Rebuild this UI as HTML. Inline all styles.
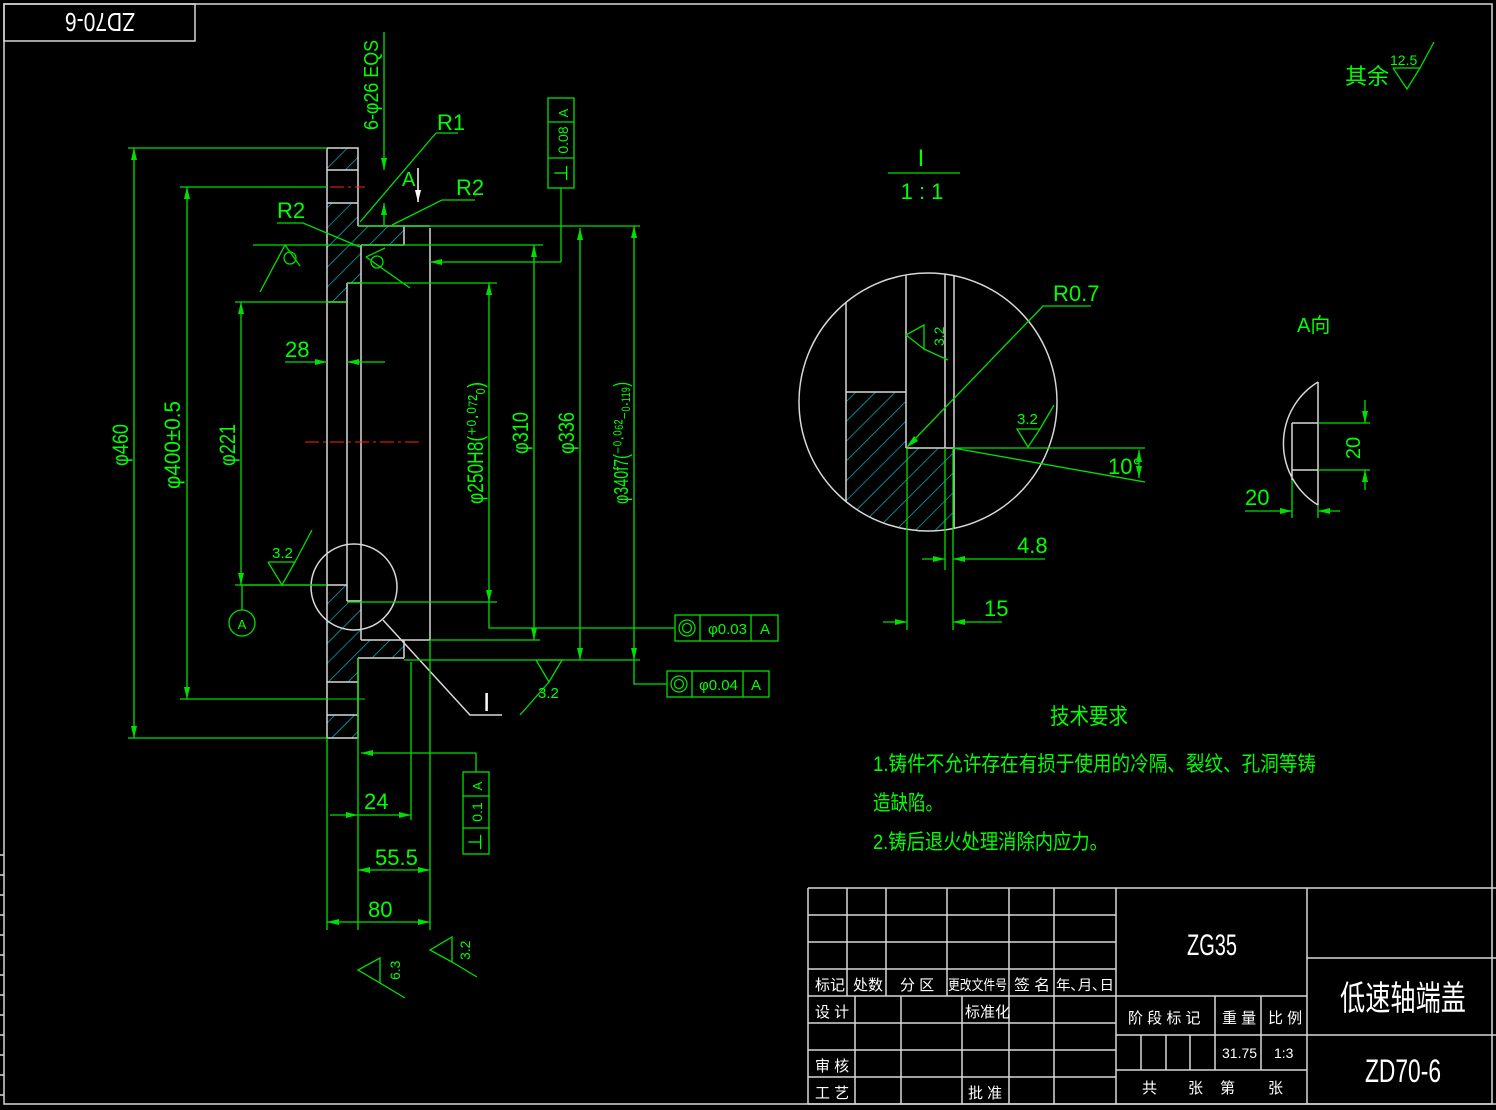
<!DOCTYPE html>
<html><head><meta charset="utf-8"><style>
html,body{margin:0;padding:0;background:#000;}
svg{display:block}
text{font-family:"Liberation Sans Narrow","Liberation Sans","Noto Sans CJK SC",sans-serif;fill:#00ff00}
.w{stroke:#d8d8d8;stroke-width:1.5;fill:none}
.g{stroke:#00e000;stroke-width:1.3;fill:none}
.t{fill:#fff}
</style></head><body>
<svg width="1496" height="1110" viewBox="0 0 1496 1110" xmlns="http://www.w3.org/2000/svg">
<defs>
<pattern id="h" patternUnits="userSpaceOnUse" width="14" height="14" patternTransform="rotate(45)">
<line x1="0" y1="0" x2="0" y2="14" stroke="#00c8d8" stroke-width="1.3"/>
</pattern>
<marker id="a" viewBox="0 0 12 6" refX="12" refY="3" markerWidth="12" markerHeight="6" orient="auto-start-reverse" markerUnits="userSpaceOnUse"><path d="M0,0L12,3L0,6z" fill="#00e000"/></marker>
</defs>
<rect x="0" y="0" width="1496" height="1110" fill="#000"/>
<rect x="4" y="4" width="1488" height="1100" class="w" stroke-width="1.2"/>
<rect x="4" y="4" width="191" height="37" class="w" stroke-width="1.2"/>
<text x="100" y="33" transform="rotate(180 100 23)" text-anchor="middle" class="t" font-size="26" textLength="70" lengthAdjust="spacingAndGlyphs">ZD70-6</text>

<text x="1345" y="84" font-size="22">其余</text>
<text x="1390" y="65" font-size="14">12.5</text>
<path class="g" d="M1393,68 L1420,68 L1407,89 L1393,68 M1420,68 L1434,42"/>

<path fill="url(#h)" d="M327,148H358V170H327Z M327,203H358V226H404V245H361V283H347V302H327Z M327,585H347V601H361V640H404V658H358V682H327Z M327,715H358V738H327Z"/>
<path class="w" d="M327,148V738 M327,148H358V226 M327,170H358 M327,203H358 M358,226H430 M404,226V245 M361,245H404 M361,245V640 M347,283H361 M347,283V601 M327,302H347 M327,585H347 M347,601H361 M361,640H430 M404,640V658 M358,658H404 M358,658V738 M327,682H358 M327,715H358 M327,738H358 M430,228V640"/>
<line x1="305" y1="187" x2="365" y2="187" stroke="#ff2020" stroke-dasharray="14,4,3,4"/>
<line x1="305" y1="442" x2="420" y2="442" stroke="#ff2020" stroke-dasharray="14,4,3,4"/>
<line x1="305" y1="699" x2="365" y2="699" stroke="#00e000"/>
<circle cx="354" cy="587" r="43" class="w"/>
<path class="w" d="M383,620L470,715H502"/>
<text x="483" y="711" class="t" font-size="26">I</text>

<path class="g" d="M128,148H327 M128,738H327 M180,187H327 M180,699H327 M235,302H347 M235,585H327"/>
<line class="g" x1="134" y1="148" x2="134" y2="738" marker-start="url(#a)" marker-end="url(#a)"/>
<line class="g" x1="187" y1="187" x2="187" y2="699" marker-start="url(#a)" marker-end="url(#a)"/>
<line class="g" x1="241" y1="302" x2="241" y2="585" marker-start="url(#a)" marker-end="url(#a)"/>
<text x="128" y="445" transform="rotate(-90 128 445)" text-anchor="middle" font-size="22" textLength="42" lengthAdjust="spacingAndGlyphs">φ460</text>
<text x="180" y="445" transform="rotate(-90 180 445)" text-anchor="middle" font-size="22" textLength="88" lengthAdjust="spacingAndGlyphs">φ400±0.5</text>
<text x="235" y="445" transform="rotate(-90 235 445)" text-anchor="middle" font-size="22" textLength="42" lengthAdjust="spacingAndGlyphs">φ221</text>
<line class="g" x1="285" y1="362" x2="327" y2="362" marker-end="url(#a)"/>
<line class="g" x1="385" y1="362" x2="347" y2="362" marker-end="url(#a)"/>
<text x="285" y="357" font-size="22">28</text>
<circle cx="242" cy="623" r="13" class="g"/><text x="242" y="629" text-anchor="middle" font-size="13">A</text>
<line class="g" x1="242" y1="585" x2="242" y2="610"/>
<text x="272" y="558" font-size="15">3.2</text>
<path class="g" d="M268,562H295L282,585L268,562 M295,562L312,530"/>
<path class="g" d="M240,585H327"/>
<text x="277" y="218" font-size="22">R2</text>
<path class="g" d="M277,223H303L360,247"/>
<path class="g" d="M253,245H360 M260,292L285,245L300,266"/>
<circle cx="290" cy="258" r="6" class="g"/>
<circle cx="377" cy="262" r="6" class="g"/>
<path class="g" d="M366,257L410,288 M366,257L385,248"/>

<text x="378" y="130" transform="rotate(-90 378 130)" font-size="20" textLength="90" lengthAdjust="spacingAndGlyphs">6-φ26 EQS</text>
<line class="g" x1="384" y1="32" x2="384" y2="170" marker-end="url(#a)"/>
<line class="g" x1="384" y1="226" x2="384" y2="203" marker-end="url(#a)"/>
<text x="437" y="130" font-size="22">R1</text>
<path class="g" d="M436,133H458 M436,133L360,222"/>
<text x="402" y="186" font-size="20">A</text>
<line x1="418" y1="168" x2="418" y2="202" stroke="#fff" stroke-width="1.5"/>
<path d="M415,190L418,202L421,190z" fill="#fff"/>
<text x="456" y="195" font-size="22">R2</text>
<path class="g" d="M475,200H442L392,225"/>
<rect x="548" y="98" width="26" height="90" class="g"/>
<line class="g" x1="548" y1="122" x2="574" y2="122"/>
<line class="g" x1="548" y1="158" x2="574" y2="158"/>
<text x="568" y="113" transform="rotate(-90 568 113)" text-anchor="middle" font-size="13">A</text>
<text x="568" y="140" transform="rotate(-90 568 140)" text-anchor="middle" font-size="14">0.08</text>
<text x="568" y="173" transform="rotate(-90 568 173)" text-anchor="middle" font-size="18">⊥</text>
<line class="g" x1="561" y1="188" x2="561" y2="262"/>
<line class="g" x1="561" y1="262" x2="430" y2="262" marker-end="url(#a)"/>

<path class="g" d="M358,226H640 M361,245H543 M347,283H497 M347,602H497 M430,640H540 M404,660H640"/>
<line class="g" x1="489" y1="283" x2="489" y2="602" marker-start="url(#a)" marker-end="url(#a)"/>
<line class="g" x1="534" y1="245" x2="534" y2="640" marker-start="url(#a)" marker-end="url(#a)"/>
<line class="g" x1="580" y1="228" x2="580" y2="660" marker-start="url(#a)" marker-end="url(#a)"/>
<line class="g" x1="634" y1="226" x2="634" y2="660" marker-start="url(#a)" marker-end="url(#a)"/>
<text x="483" y="443" transform="rotate(-90 483 443)" text-anchor="middle" font-size="22" textLength="122" lengthAdjust="spacingAndGlyphs">φ250H8(⁺⁰·⁰⁷²₀)</text>
<text x="528" y="433" transform="rotate(-90 528 433)" text-anchor="middle" font-size="22" textLength="42" lengthAdjust="spacingAndGlyphs">φ310</text>
<text x="574" y="433" transform="rotate(-90 574 433)" text-anchor="middle" font-size="22" textLength="42" lengthAdjust="spacingAndGlyphs">φ336</text>
<text x="628" y="443" transform="rotate(-90 628 443)" text-anchor="middle" font-size="20" textLength="122" lengthAdjust="spacingAndGlyphs">φ340f7(⁻⁰·⁰⁶²₋₀.₁₁₉)</text>
<path class="g" d="M489,602V628H675 M634,660V684H667"/>
<rect x="675" y="615" width="103" height="26" class="g"/>
<path class="g" d="M700,615V641 M751,615V641"/>
<circle cx="687" cy="628" r="8" class="g"/><circle cx="687" cy="628" r="4.5" class="g"/>
<text x="708" y="634" font-size="15">φ0.03</text><text x="760" y="634" font-size="15">A</text>
<rect x="667" y="671" width="102" height="26" class="g"/>
<path class="g" d="M692,671V697 M743,671V697"/>
<circle cx="679" cy="684" r="8" class="g"/><circle cx="679" cy="684" r="4.5" class="g"/>
<text x="699" y="690" font-size="15">φ0.04</text><text x="751" y="690" font-size="15">A</text>
<path class="g" d="M536,660H562L549,682 M536,660L549,682 M549,682L520,715"/>
<text x="538" y="698" font-size="15">3.2</text>

<path class="g" d="M327,738V930 M358,738V875 M411,662V820 M430,640V930 M358,658V930"/>
<line class="g" x1="476" y1="753" x2="361" y2="753" marker-end="url(#a)"/>
<path class="g" d="M476,753V772"/>
<rect x="463" y="772" width="26" height="82" class="g"/>
<path class="g" d="M463,796H489 M463,828H489"/>
<text x="482" y="786" transform="rotate(-90 482 786)" text-anchor="middle" font-size="13">A</text>
<text x="482" y="812" transform="rotate(-90 482 812)" text-anchor="middle" font-size="14">0.1</text>
<text x="482" y="842" transform="rotate(-90 482 842)" text-anchor="middle" font-size="18">⊥</text>
<line class="g" x1="330" y1="815" x2="358" y2="815" marker-end="url(#a)"/>
<line class="g" x1="411" y1="815" x2="358" y2="815" marker-start="url(#a)"/>
<text x="364" y="809" font-size="22">24</text>
<line class="g" x1="358" y1="870" x2="430" y2="870" marker-start="url(#a)" marker-end="url(#a)"/>
<text x="375" y="865" font-size="22">55.5</text>
<line class="g" x1="327" y1="922" x2="430" y2="922" marker-start="url(#a)" marker-end="url(#a)"/>
<text x="368" y="917" font-size="22">80</text>
<path class="g" d="M380,958V983L358,970Z M380,983L405,998"/>
<text x="400" y="980" transform="rotate(-90 400 980)" font-size="14">6.3</text>
<path class="g" d="M452,937V962L430,950Z M452,962L477,977"/>
<text x="470" y="960" transform="rotate(-90 470 960)" font-size="14">3.2</text>

<text x="921" y="166" text-anchor="middle" font-size="24">I</text>
<line class="g" x1="888" y1="173" x2="960" y2="173"/>
<text x="922" y="199" text-anchor="middle" font-size="22">1 : 1</text>
<clipPath id="c"><circle cx="928" cy="402" r="129"/></clipPath>
<g clip-path="url(#c)">
<path fill="url(#h)" d="M846,392H906V448H954V540H846Z"/>
<path class="w" d="M846,260V540 M846,392H906 M906,260V448 M906,448H954 M945,260V448 M954,260V540"/>
</g>
<circle cx="928" cy="402" r="129" class="w"/>
<path class="g" d="M907,448V630 M945,448V570 M953,448V630 M953,448H1145 M953,448L1145,482"/>
<text x="1053" y="301" font-size="22">R0.7</text>
<path class="g" d="M1091,306H1043L912,442"/>
<path d="M906,448L914,436L918,441z" fill="#00e000"/>
<path class="g" d="M906,335L924,325V349Z M924,349L948,360"/>
<text x="944" y="346" transform="rotate(-90 944 346)" font-size="14">3.2</text>
<text x="1017" y="424" font-size="15">3.2</text>
<path class="g" d="M1017,429H1040L1028,447Z M1040,429L1054,405"/>
<text x="1108" y="474" font-size="22">10°</text>
<line class="g" x1="1139" y1="450" x2="1139" y2="478" marker-start="url(#a)" marker-end="url(#a)"/>
<line class="g" x1="922" y1="559" x2="945" y2="559" marker-end="url(#a)"/>
<line class="g" x1="1045" y1="559" x2="953" y2="559" marker-end="url(#a)"/>
<text x="1017" y="553" font-size="22">4.8</text>
<line class="g" x1="883" y1="622" x2="907" y2="622" marker-end="url(#a)"/>
<line class="g" x1="1002" y1="622" x2="953" y2="622" marker-end="url(#a)"/>
<text x="984" y="616" font-size="22">15</text>

<text x="1297" y="332" font-size="20">A向</text>
<path class="w" d="M1318,382V505 M1318,382A72,72 0 0 0 1318,505 M1292,423V480 M1292,423H1318 M1292,470H1318"/>
<path class="g" d="M1318,423H1370 M1318,470H1370 M1292,480V518 M1318,505V518"/>
<line class="g" x1="1365" y1="400" x2="1365" y2="423" marker-end="url(#a)"/>
<line class="g" x1="1365" y1="490" x2="1365" y2="470" marker-end="url(#a)"/>
<text x="1360" y="448" transform="rotate(-90 1360 448)" text-anchor="middle" font-size="20">20</text>
<line class="g" x1="1245" y1="511" x2="1292" y2="511" marker-end="url(#a)"/>
<line class="g" x1="1340" y1="511" x2="1318" y2="511" marker-end="url(#a)"/>
<text x="1245" y="505" font-size="22">20</text>

<text x="1050" y="724" font-size="22" textLength="78" lengthAdjust="spacingAndGlyphs">技术要求</text>
<text x="873" y="771" font-size="21" textLength="443" lengthAdjust="spacingAndGlyphs">1.铸件不允许存在有损于使用的冷隔、裂纹、孔洞等铸</text>
<text x="873" y="810" font-size="21" textLength="70" lengthAdjust="spacingAndGlyphs">造缺陷。</text>
<text x="873" y="849" font-size="21" textLength="235" lengthAdjust="spacingAndGlyphs">2.铸后退火处理消除内应力。</text>

<g class="w" stroke-width="1.2">
<path d="M808,888H1496 M808,888V1104 M808,915H1116 M808,942H1116 M808,969H1116 M808,996H1116 M808,1023H1116 M808,1050H1116 M808,1077H1116 M808,1104H1496"/>
<path d="M847,888V996 M886,888V996 M947,888V996 M1009,888V996 M1054,888V1104 M1116,888V1104 M1307,888V1104"/>
<path d="M855,996V1104 M901,996V1104 M962,996V1104 M1009,996V1104"/>
<path d="M1116,996H1307 M1116,1035H1307 M1116,1070H1307 M1215,996V1070 M1261,996V1070 M1141,1035V1070 M1166,1035V1070 M1190,1035V1070"/>
<path d="M1307,958H1496 M1307,1035H1496"/>
</g>
<g class="t" font-size="15">
<text x="815" y="990" class="t">标记</text><text x="853" y="990" class="t">处数</text><text x="900" y="990" class="t">分 区</text>
<text x="948" y="990" class="t" font-size="14" textLength="59" lengthAdjust="spacingAndGlyphs">更改文件号</text><text x="1014" y="990" class="t" textLength="36" lengthAdjust="spacingAndGlyphs">签 名</text><text x="1056" y="990" class="t" font-size="14" textLength="58" lengthAdjust="spacingAndGlyphs">年､月､日</text>
<text x="815" y="1017" class="t">设 计</text><text x="965" y="1017" class="t">标准化</text>
<text x="815" y="1071" class="t">审 核</text><text x="815" y="1098" class="t">工 艺</text><text x="968" y="1098" class="t">批 准</text>
<text x="1128" y="1023" class="t">阶 段 标 记</text><text x="1222" y="1023" class="t">重 量</text><text x="1268" y="1023" class="t">比 例</text>
<text x="1222" y="1058" class="t" font-size="14">31.75</text><text x="1274" y="1058" class="t" font-size="14">1:3</text>
<text x="1142" y="1093" class="t">共</text><text x="1188" y="1093" class="t">张</text><text x="1220" y="1093" class="t">第</text><text x="1268" y="1093" class="t">张</text>
</g>
<text x="1212" y="955" text-anchor="middle" class="t" font-size="30" textLength="50" lengthAdjust="spacingAndGlyphs">ZG35</text>
<text x="1403" y="1010" text-anchor="middle" class="t" font-size="34" textLength="126" lengthAdjust="spacingAndGlyphs">低速轴端盖</text>
<text x="1403" y="1082" text-anchor="middle" class="t" font-size="32" textLength="76" lengthAdjust="spacingAndGlyphs">ZD70-6</text>
<path class="w" d="M0,855H4 M0,875H4 M0,895H4 M0,915H4 M0,935H4 M0,955H4 M0,975H4 M0,995H4 M0,1015H4 M0,1035H4 M0,1055H4 M0,1075H4 M0,1095H4"/>
</svg>
</body></html>
